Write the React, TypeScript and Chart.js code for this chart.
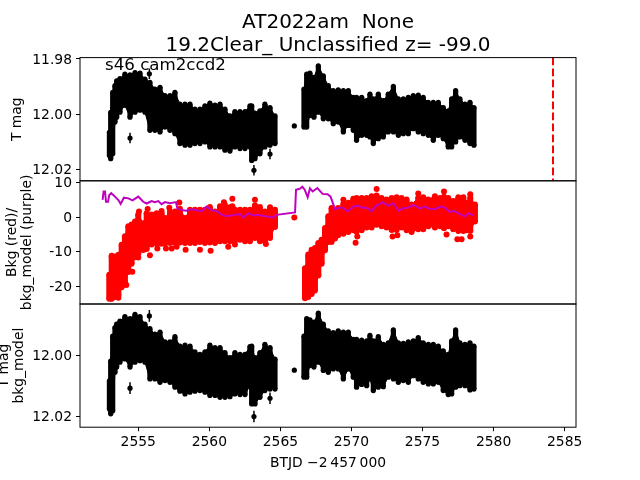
import React, { useEffect, useRef } from "react";
import { Chart, registerables } from "chart.js";

Chart.register(...registerables);

const titleLines = ["AT2022am  None", "19.2Clear_ Unclassified z= -99.0"];
const sectorLabel = "s46 cam2ccd2";
const xLabel = "BTJD \u22122\u2009457\u2009000";
const xTicks = [2555, 2560, 2565, 2570, 2575, 2580, 2585];
const topTicks = [11.98, 12.0, 12.02];
const midTicks = [10, 0, -10, -20];
const lowTicks = [12.0, 12.02];
const eventTime = 2584.18;

const magTime = [
  2552.97, 2553.06, 2553.2, 2553.36, 2553.48, 2553.71, 2554.06, 2554.42, 2554.77, 2555.12, 2555.47, 2555.82, 2556.17, 2556.53,
  2556.88, 2557.23, 2557.58, 2557.93, 2558.29, 2558.64, 2558.99, 2559.34, 2559.69, 2560.04, 2560.4, 2560.75, 2561.1,
  2561.45, 2561.8, 2562.16, 2562.51, 2562.86, 2562.98, 2563.21, 2563.56, 2563.91, 2564.27, 2564.62,
  2566.66, 2566.85, 2567.08, 2567.36, 2567.67, 2568.02, 2568.37, 2568.72, 2569.07, 2569.43, 2569.78, 2570.13, 2570.36,
  2570.72, 2571.07, 2571.3, 2571.54, 2571.89, 2572.24, 2572.59, 2572.95, 2573.3, 2573.65, 2574.0, 2574.35, 2574.7,
  2575.05, 2575.41, 2575.76, 2576.11, 2576.46, 2576.81, 2577.05, 2577.33, 2577.63, 2577.99, 2578.34, 2578.62,
];
const tmagBright = [
  12.0066, 11.9994, 11.9921, 11.9897, 11.9879, 11.9871, 11.9855, 11.9858, 11.9849, 11.9851, 11.9873, 11.9885, 11.9909, 11.9903,
  11.9933, 11.9933, 11.9921, 11.9964, 11.9964, 11.9964, 11.9982, 11.9982, 11.997, 11.996, 11.9967, 11.9964, 11.9982,
  12.0006, 11.9991, 11.9991, 11.9991, 11.997, 11.997, 11.9996, 11.9988, 11.9964, 11.9976, 12.0006,
  11.9909, 11.9855, 11.9851, 11.9867, 11.9825, 11.9861, 11.9897, 11.9915, 11.9912, 11.9915, 11.9915, 11.9939, 11.9939,
  11.9939, 11.9951, 11.9927, 11.9945, 11.9927, 11.9951, 11.9927, 11.9899, 11.9945, 11.9945, 11.9939, 11.9933, 11.9931,
  11.9939, 11.9957, 11.9957, 11.9957, 11.9976, 11.9988, 11.9945, 11.9915, 11.9945, 11.9964, 11.9957, 11.9976,
];
const tmagFaint = [
  12.015, 12.0162, 12.0144, 12.0029, 12.0011, 11.9993, 11.9968, 12.0011, 11.9993, 11.9986, 11.9993, 12.0059, 12.0059, 12.0065,
  12.0047, 12.0059, 12.0071, 12.0107, 12.0113, 12.0113, 12.0107, 12.0107, 12.0101, 12.0119, 12.0119, 12.0119, 12.0131,
  12.0134, 12.0119, 12.0125, 12.0125, 12.0119, 12.0168, 12.0162, 12.0144, 12.0119, 12.0113, 12.0107,
  12.0047, 12.0047, 12.0005, 12.0011, 11.9993, 12.0017, 12.0017, 12.0035, 12.0029, 12.0065, 12.0041, 12.0059, 12.0095,
  12.0077, 12.0077, 12.0083, 12.0107, 12.0089, 12.0083, 12.0065, 12.0065, 12.0077, 12.0071, 12.0071, 12.0053, 12.0065,
  12.0071, 12.0077, 12.0095, 12.0077, 12.0089, 12.0119, 12.0119, 12.0101, 12.0083, 12.0095, 12.0107, 12.0113,
];
const correctedBright = [
  12.0084, 12.0019, 11.9937, 11.9909, 11.9898, 11.9888, 11.9873, 11.988, 11.9866, 11.9873, 11.9898, 11.9913, 11.9931, 11.9924,
  11.9956, 11.9956, 11.9939, 11.997, 11.9967, 11.997, 11.9989, 11.9997, 11.9989, 11.9967, 11.9975, 11.9975, 11.9991,
  12.0008, 11.9991, 11.9997, 11.9997, 11.9972, 11.997, 12.0008, 11.9991, 11.9964, 11.9975, 12.0013,
  11.9937, 11.988, 11.9884, 11.9891, 11.9862, 11.9898, 11.992, 11.9926, 11.992, 11.9924, 11.9924, 11.9948, 11.9948,
  11.995, 11.9953, 11.9935, 11.9953, 11.9939, 11.9964, 11.9959, 11.9917, 11.9959, 11.9961, 11.9956, 11.9953, 11.9942,
  11.9959, 11.9964, 11.9964, 11.997, 11.9986, 11.9997, 11.9953, 11.9917, 11.9959, 11.9964, 11.9959, 11.997,
];
const correctedFaint = [
  12.0176, 12.0192, 12.0182, 12.0056, 12.0039, 12.0023, 12.0012, 12.0039, 12.0023, 12.0018, 12.0023, 12.0078, 12.0078, 12.0089,
  12.0083, 12.0089, 12.0105, 12.0118, 12.0127, 12.0121, 12.0118, 12.0116, 12.0121, 12.0132, 12.0132, 12.0138, 12.0138,
  12.0136, 12.0127, 12.0129, 12.0129, 12.01, 12.016, 12.016, 12.0138, 12.0116, 12.0111, 12.0111,
  12.0072, 12.0072, 12.0034, 12.0039, 12.0023, 12.005, 12.0056, 12.0045, 12.0045, 12.0078, 12.0045, 12.0072, 12.0105,
  12.0096, 12.01, 12.0078, 12.0116, 12.0105, 12.0103, 12.0072, 12.0078, 12.0089, 12.0083, 12.0089, 12.0067, 12.0078,
  12.0089, 12.0094, 12.0094, 12.0089, 12.0116, 12.0129, 12.0127, 12.0105, 12.01, 12.01, 12.0114, 12.0111,
];
const outlierTime = [2554.42, 2555.78, 2563.14, 2564.27, 2565.98];
const tmagOutlier = [12.0087, 11.9854, 12.0204, 12.0145, 12.0043];
const correctedOutlier = [12.0108, 11.9871, 12.0201, 12.0141, 12.0049];
const outlierError = [0.0019, 0.0019, 0.0019, 0.0019, 0.0004];

const bkgTime = [
  2552.96, 2553.13, 2553.36, 2553.6, 2553.83, 2554.06, 2554.3, 2554.53, 2554.77, 2555.0, 2555.35, 2555.59, 2555.94,
  2556.29, 2556.64, 2556.88, 2557.23, 2557.58, 2557.93, 2558.29, 2558.64, 2558.99, 2559.34, 2559.69, 2560.04, 2560.4,
  2560.75, 2561.1, 2561.45, 2561.62, 2561.8, 2562.16, 2562.51, 2562.86, 2563.21, 2563.56, 2563.91, 2564.27, 2564.62,
  2566.73, 2566.96, 2567.2, 2567.43, 2567.67, 2567.9, 2568.14, 2568.37, 2568.6, 2568.84, 2569.07, 2569.43, 2569.78,
  2570.13, 2570.36, 2570.72, 2571.07, 2571.42, 2571.77, 2572.12, 2572.47, 2572.83, 2573.18, 2573.53, 2573.88, 2574.23,
  2574.7, 2575.05, 2575.41, 2575.87, 2576.23, 2576.51, 2576.81, 2577.16, 2577.52, 2577.87, 2578.1, 2578.36, 2578.69,
];
const bkgHigh = [
  -16.7, -11.4, -11.4, -10.9, -8.0, -5.5, -2.6, -2.1, -1.2, 0.8, -1.7, 1.2, 0.8, 1.2, 1.2, -0.2, 1.6, 1.7, 2.5, -0.2,
  2.2, 2.2, 2.2, 2.2, 3.0, 1.7, 3.2, 3.6, 2.9, 3.2, 2.2, 2.2, 2.2, 2.2, 3.5, 3.0, 1.7, 2.9, 2.2,
  -14.8, -11.4, -9.4, -8.9, -7.5, -6.5, -3.1, 0.3, 2.7, 2.2, 2.7, 3.9, 4.2, 5.4, 5.6, 5.6, 5.6, 6.1, 6.3, 5.6, 5.2,
  5.6, 5.8, 5.6, 5.2, 3.7, 5.7, 5.8, 5.2, 6.1, 5.6, 6.0, 5.6, 4.7, 5.8, 5.8, 4.2, 5.7, 3.7,
];
const bkgLow = [
  -23.7, -23.7, -23.2, -22.7, -20.3, -18.9, -15.9, -13.5, -11.6, -10.6, -9.5, -9.2, -7.9, -7.7, -7.7, -7.7, -7.5,
  -7.5, -7.3, -7.5, -7.5, -7.5, -7.2, -7.5, -7.3, -7.5, -7.0, -7.0, -7.0, -6.5, -6.8, -6.5, -7.0, -7.0, -6.0, -7.0,
  -7.0, -6.0, -2.8,
  -23.5, -23.2, -22.3, -21.3, -16.9, -13.5, -9.6, -7.2, -7.2, -6.2, -5.2, -4.8, -4.3, -3.8, -4.2, -3.8, -3.0, -3.0,
  -2.2, -2.6, -3.0, -3.7, -3.7, -3.0, -3.8, -4.3, -3.5, -3.5, -2.6, -3.0, -2.6, -3.2, -2.6, -3.5, -4.0, -4.0, -3.8,
  -4.0, -1.2,
];
const bkgSingleTime = [
  2565.98, 2553.13, 2553.24, 2554.16, 2554.58, 2555.0, 2555.82, 2556.34, 2556.95, 2557.35, 2557.7, 2558.33, 2559.34,
  2560.09, 2561.33, 2561.8, 2563.98, 2555.05, 2555.66, 2556.64, 2557.18, 2557.89, 2561.62, 2563.21, 2561.03, 2553.6,
  2553.13, 2566.96, 2570.29, 2570.41, 2572.89, 2573.23, 2576.69, 2577.45, 2577.75, 2578.36, 2569.43, 2571.77, 2574.7,
  2576.51, 2578.36,
];
const bkgSingle = [
  -0.1, -11.2, -13.1, -19.7, -15.8, -11.7, -11.0, -9.1, -9.1, -9.1, -8.6, -9.4, -9.4, -9.7, -8.6, -7.9, -7.8, 1.65,
  2.4, 1.85, 2.8, 4.3, 5.4, 5.1, 4.4, -23.4, -23.6, -10.8, -7.4, -5.6, -5.6, -5.2, -5.0, -6.4, -6.4, -5.6, 5.1, 8.2,
  6.9, 7.5, 6.7,
];

const modelTime = [
  2552.49, 2552.56, 2552.66, 2552.73, 2552.87, 2552.96, 2553.1, 2553.36, 2553.6, 2553.76, 2553.99, 2554.3, 2554.6,
  2555.0, 2555.35, 2555.59, 2555.94, 2556.17, 2556.41, 2556.64, 2556.88, 2557.23, 2557.65, 2557.75, 2558.05, 2558.36,
  2558.75, 2559.11, 2559.46, 2559.81, 2560.16, 2560.51, 2560.98, 2561.33, 2561.8, 2562.16, 2562.39, 2562.74, 2563.09,
  2563.45, 2563.8, 2564.15, 2564.5, 2564.74, 2566.03, 2566.1, 2566.38, 2566.54, 2566.71, 2566.92, 2567.08, 2567.27,
  2567.6, 2567.97, 2568.32, 2568.53, 2568.84, 2569.19, 2569.43, 2569.71, 2570.13, 2570.48, 2570.72, 2571.07, 2571.42,
  2571.66, 2572.19, 2572.59, 2572.95, 2573.3, 2573.65, 2574.0, 2574.35, 2574.82, 2575.17, 2575.52, 2575.87, 2576.23,
  2576.58, 2576.93, 2577.16, 2577.52, 2577.99, 2578.22, 2578.62,
];
const modelValue = [
  5.05, 7.5, 7.5, 4.5, 4.5, 6.5, 7.0, 6.0, 5.0, 3.9, 5.7, 5.5, 4.9, 6.0, 4.5, 4.0, 4.7, 4.4, 4.7, 3.8, 4.4, 4.1, 4.4,
  2.6, 2.1, 1.9, 2.3, 2.1, 1.7, 3.1, 2.1, 1.8, 0.5, 0.4, 0.7, 0.9, -0.1, 1.2, 0.5, 0.7, 0.4, 0.2, -0.1, 0.7, 1.4, 8.0,
  8.3, 8.9, 8.0, 5.8, 8.4, 7.5, 8.5, 6.8, 6.7, 6.0, 2.4, 2.8, 2.8, 1.7, 3.1, 3.4, 2.8, 2.8, 1.7, 3.1, 4.4, 3.4, 4.1,
  1.9, 2.6, 2.8, 3.6, 2.6, 3.1, 2.4, 2.4, 3.1, 2.8, 1.5, 1.9, 1.2, 0.2, 1.2, 0.5,
];

const BLACK = "#000000";
const RED = "#ff0000";
const PURPLE = "#bf00bf";
const FONT = "'DejaVu Sans'";
const X_MIN = 2550.9;
const X_MAX = 2585.8;

function columns(t: number[], a: number[], b: number[]) {
  return t.flatMap((x, i) => [
    { x, y: a[i] },
    { x, y: b[i] },
    { x, y: NaN },
  ]);
}

function pairs(t: number[], v: number[]) {
  return t.map((x, i) => ({ x, y: v[i] }));
}

function withBreak(t: number[], v: number[]) {
  return t.flatMap((x, i) => (i > 0 && x - t[i - 1] > 1 ? [{ x, y: NaN }, { x, y: v[i] }] : [{ x, y: v[i] }]));
}

function errorBars(t: number[], v: number[], e: number[]) {
  return columns(
    t,
    v.map((y, i) => y - e[i]),
    v.map((y, i) => y + e[i])
  );
}

function columnSet(data: any[], color: string, width: number, radius: number) {
  return {
    data,
    showLine: true,
    borderColor: color,
    backgroundColor: color,
    borderWidth: width,
    borderCapStyle: "butt",
    pointRadius: radius,
    pointBorderWidth: 0,
    spanGaps: false,
    tension: 0,
  };
}

function envelope(t: number[], a: number[], b: number[], color: string, width: number, radius: number) {
  const edge = {
    showLine: true,
    borderColor: color,
    backgroundColor: color,
    borderWidth: 1,
    pointRadius: 0,
    spanGaps: false,
    tension: 0,
  };
  return [
    { ...edge, data: withBreak(t, a), fill: "+1" },
    { ...edge, data: withBreak(t, b), fill: false },
    columnSet(columns(t, a, b), color, width, radius),
  ];
}

const framePlugin = {
  id: "frame",
  afterDraw(chart: any, _args: any, opts: any) {
    const { ctx, chartArea: a } = chart;
    ctx.save();
    ctx.strokeStyle = BLACK;
    ctx.lineWidth = 1;
    ctx.strokeRect(a.left, a.top, a.right - a.left, a.bottom - a.top);
    if (opts.text) {
      ctx.fillStyle = "#000000";
      ctx.font = `16.67px ${FONT}`;
      ctx.textBaseline = "alphabetic";
      ctx.textAlign = "left";
      ctx.fillText(opts.text, 105, 70);
    }
    ctx.restore();
  },
};

function yScale(min: number, max: number, ticks: number[], reverse: boolean, title: string[], titleLeft: number, digits: number) {
  return {
    type: "linear",
    min,
    max,
    reverse,
    bounds: "data",
    afterBuildTicks(s: any) {
      s.ticks = ticks.map((value) => ({ value }));
    },
    afterFit(s: any) {
      s.width = 80;
    },
    ticks: {
      autoSkip: false,
      color: "#000000",
      padding: 4,
      labelOffset: 1,
      font: { family: FONT, size: 13.89 },
      callback: (v: any) => Number(v).toFixed(digits),
    },
    grid: { drawOnChartArea: false, drawTicks: true, tickLength: 4, tickColor: BLACK, tickWidth: 1 },
    border: { display: false },
    title: {
      display: true,
      text: title,
      color: "#000000",
      font: { family: FONT, size: 13.89, lineHeight: "15px" },
      padding: { top: titleLeft, bottom: 0 },
    },
  };
}

function xScale(show: boolean) {
  return {
    type: "linear",
    min: X_MIN,
    max: X_MAX,
    display: show,
    bounds: "data",
    afterBuildTicks(s: any) {
      s.ticks = xTicks.map((value) => ({ value }));
    },
    afterFit(s: any) {
      if (show) s.height = 52.8;
    },
    ticks: {
      autoSkip: false,
      maxRotation: 0,
      color: "#000000",
      padding: 3,
      font: { family: FONT, size: 13.89 },
      callback: (v: any) => String(v),
    },
    grid: { drawOnChartArea: false, drawTicks: true, tickLength: 4, tickColor: BLACK, tickWidth: 1 },
    border: { display: false },
    title: {
      display: show,
      text: xLabel,
      color: "#000000",
      font: { family: FONT, size: 13.89, lineHeight: "16px" },
      padding: { top: 0, bottom: 9 },
    },
  };
}

function makeConfig(datasets: any[], y: any, showX: boolean, padding: any, frameText: string, showTitle: boolean) {
  return {
    type: "scatter",
    data: { datasets },
    plugins: [framePlugin],
    options: {
      responsive: false,
      animation: false,
      events: [],
      layout: { padding },
      scales: { x: xScale(showX), y },
      plugins: {
        legend: { display: false },
        tooltip: { enabled: false },
        frame: { text: frameText },
        title: {
          display: showTitle,
          text: titleLines,
          color: "#000000",
          fullSize: false,
          font: { family: FONT, size: 20, weight: "normal", lineHeight: "23px" },
          padding: { top: 0, bottom: 0.6 },
        },
      },
    },
  } as any;
}

const canvasStyle: React.CSSProperties = { position: "absolute", left: 0, top: 0 };

export default function App() {
  const top = useRef<HTMLCanvasElement>(null);
  const mid = useRef<HTMLCanvasElement>(null);
  const low = useRef<HTMLCanvasElement>(null);

  useEffect(() => {
    const charts = [
      new Chart(
        top.current!,
        makeConfig(
          [
            ...envelope(magTime, tmagBright, tmagFaint, BLACK, 5.2, 2.6),
            columnSet(errorBars(outlierTime, tmagOutlier, outlierError), BLACK, 1.5, 0),
            columnSet(pairs(outlierTime, tmagOutlier), BLACK, 0, 2.6),
            {
              data: [
                { x: eventTime, y: 11.9795 },
                { x: eventTime, y: 12.0242 },
              ],
              showLine: true,
              borderColor: RED,
              borderWidth: 2,
              borderDash: [7.7, 3.3],
              pointRadius: 0,
            },
          ],
          yScale(11.9795, 12.0242, topTicks, true, ["T mag"], 10, 2),
          false,
          { left: 0, right: 64, top: 11, bottom: 299.2 },
          sectorLabel,
          true
        )
      ),
      new Chart(
        mid.current!,
        makeConfig(
          [
            {
              data: pairs(modelTime, modelValue),
              showLine: true,
              borderColor: PURPLE,
              borderWidth: 2,
              pointRadius: 0,
              tension: 0,
            },
            ...envelope(bkgTime, bkgHigh, bkgLow, RED, 6, 3),
            columnSet(pairs(bkgSingleTime, bkgSingle), RED, 0, 3),
          ],
          yScale(-25.2, 10.6, midTicks, false, ["Bkg (red)/", "bkg_model (purple)"], 5, 0),
          false,
          { left: 0, right: 64, top: 180.8, bottom: 176 },
          "",
          false
        )
      ),
      new Chart(
        low.current!,
        makeConfig(
          [
            ...envelope(magTime, correctedBright, correctedFaint, BLACK, 5.2, 2.6),
            columnSet(errorBars(outlierTime, correctedOutlier, outlierError), BLACK, 1.5, 0),
            columnSet(pairs(outlierTime, correctedOutlier), BLACK, 0, 2.6),
          ],
          yScale(11.9832, 12.0236, lowTicks, true, ["T mag", "bkg_model"], -3.5, 2),
          true,
          { left: 0, right: 64, top: 304, bottom: 0 },
          "",
          false
        )
      ),
    ];
    return () => charts.forEach((c) => c.destroy());
  }, []);

  return (
    <div style={{ position: "fixed", left: 0, top: 0, width: 640, height: 480, background: "#ffffff" }}>
      <canvas ref={top} width={640} height={480} style={canvasStyle} />
      <canvas ref={mid} width={640} height={480} style={canvasStyle} />
      <canvas ref={low} width={640} height={480} style={canvasStyle} />
    </div>
  );
}
